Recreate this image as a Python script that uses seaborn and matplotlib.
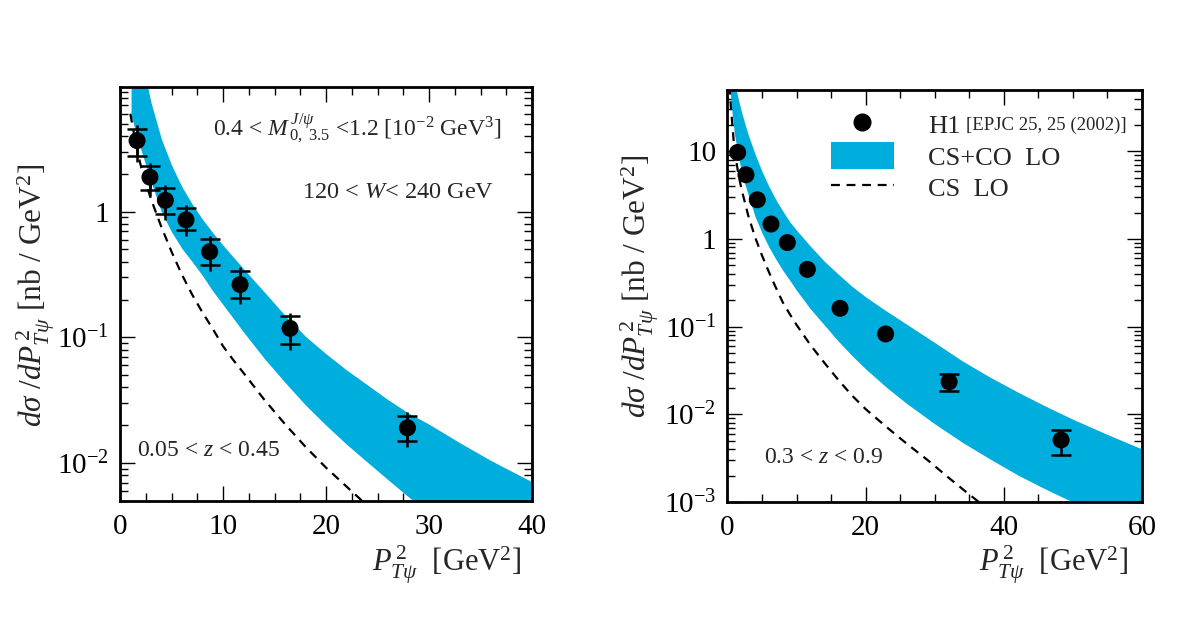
import numpy as np
import pandas as pd
import matplotlib
matplotlib.use("Agg")
import matplotlib.pyplot as plt
import matplotlib.ticker as mticker
from matplotlib.patches import Patch
from matplotlib.lines import Line2D
import seaborn as sns

#   --  left panel : 0.05 < z < 0.45
pt2_l = [1.65, 2.9, 4.4, 6.4, 8.7, 11.65, 16.5, 27.9]
xsec_l = [3.67, 1.88, 1.23, 0.86, 0.48, 0.263, 0.118, 0.0191]
xsec_l_hi = [4.58, 2.30, 1.54, 1.06, 0.606, 0.34, 0.148, 0.0239]
xsec_l_lo = [2.78, 1.48, 0.95, 0.716, 0.374, 0.206, 0.088, 0.0150]

band_x_l = [1.07, 1.5, 2, 2.5, 3, 4, 5, 6, 7, 8, 9, 10, 12, 14, 16, 18, 20, 22, 24, 26, 28, 30, 33, 36, 40]
band_hi_l = [79, 35.5, 19, 11.5, 7.4, 3.8, 2.34, 1.58, 1.15, 0.87, 0.68, 0.54, 0.35, 0.23, 0.15,
             0.102, 0.074, 0.055, 0.042, 0.032, 0.025, 0.0204, 0.0145, 0.0105, 0.0071]
band_lo_l = [5.8, 4.4, 3.16, 2.34, 1.74, 1.0, 0.69, 0.51, 0.40, 0.31, 0.234, 0.182, 0.11, 0.068, 0.044,
             0.029, 0.020, 0.0141, 0.0102, 0.0074, 0.0054, 0.0040, 0.0026, 0.0017, 0.001]

cs_x_l = [1.0, 1.5, 2, 2.5, 3, 4, 5, 6, 7, 8, 9, 10, 11, 12, 14, 16, 18, 20, 22, 24]
cs_y_l = [6.0, 3.55, 2.34, 1.70, 1.26, 0.76, 0.48, 0.316, 0.219, 0.158, 0.117, 0.085, 0.066, 0.052,
          0.032, 0.0205, 0.0135, 0.0092, 0.0065, 0.0046]

#   --  right panel : 0.3 < z < 0.9
pt2_r = [1.48, 2.68, 4.32, 6.3, 8.67, 11.57, 16.3, 22.9, 32.1, 48.3]
xsec_r = [9.7, 5.4, 2.8, 1.48, 0.91, 0.45, 0.162, 0.0826, 0.0235, 0.0051]
xsec_r_hi = [10.2, 5.7, 2.95, 1.56, 0.96, 0.475, 0.172, 0.088, 0.0286, 0.0067]
xsec_r_lo = [9.2, 5.1, 2.65, 1.40, 0.86, 0.425, 0.152, 0.077, 0.0184, 0.00348]

band_x_r = [0.3, 0.6, 1.0, 1.5, 2, 2.5, 3, 4, 5, 6, 7, 8, 9, 10, 12, 14, 16, 18, 20, 23, 26, 30, 34,
            38, 42, 46, 50, 55, 60]
band_hi_r = [200, 100, 63, 41.7, 28.8, 20.9, 15.5, 9.3, 5.9, 3.98, 2.82, 2.09, 1.58, 1.26, 0.83, 0.56,
             0.40, 0.29, 0.219, 0.151, 0.106, 0.066, 0.0407, 0.0266, 0.018, 0.01245, 0.0088, 0.0059,
             0.00403]
band_lo_r = [60, 31, 16, 9.5, 6.0, 4.3, 3.2, 1.8, 1.17, 0.81, 0.59, 0.44, 0.34, 0.26, 0.16, 0.105,
             0.069, 0.047, 0.033, 0.0204, 0.0132, 0.0078, 0.0048, 0.0031, 0.00204, 0.00141, 0.001,
             0.00066, 0.00045]

cs_x_r = [0.3, 0.5, 1, 1.5, 2, 3, 4, 5, 6, 7, 8, 9, 10, 12, 14, 16, 18, 20, 23, 26, 29, 32, 35, 37]
cs_y_r = [56, 31.6, 10.7, 6.0, 3.8, 1.86, 1.05, 0.65, 0.42, 0.28, 0.19, 0.14, 0.105, 0.062, 0.039,
          0.025, 0.0165, 0.0115, 0.0072, 0.0046, 0.0030, 0.0019, 0.00122, 0.00092]

cyan = "#00AEDD"

sns.set_style("ticks")
plt.rcParams["font.family"] = ["Liberation Serif", "DejaVu Serif"]
plt.rcParams["mathtext.fontset"] = "custom"
plt.rcParams["mathtext.rm"] = "Liberation Serif"
plt.rcParams["mathtext.it"] = "Liberation Serif:italic"
plt.rcParams["mathtext.bf"] = "Liberation Serif:bold"


def sci_label(v, pos):
    e = int(round(np.log10(v)))
    if e == 0:
        return "1"
    if e == 1:
        return "10"
    return r"$10^{%d}$" % e


def draw_panel(ax, px, py, phi, plo, bx, bhi, blo, cx, cy, xmax, ymin, ymax, xmaj, xmin_step, caps_plus):
    ax.fill_between(bx, blo, bhi, color=cyan, lw=0, zorder=1)
    sns.lineplot(x=cx, y=cy, ax=ax, color="black", lw=1.6, linestyle=(0, (4, 3)), zorder=2)
    px = np.array(px)
    py = np.array(py)
    phi = np.array(phi)
    plo = np.array(plo)
    if caps_plus:
        # outer part of the error bar sticking through the caps
        ext = [py - plo * 0.9, phi * 1.06 - py]
        ax.errorbar(px, py, yerr=ext, fmt="none", ecolor="black", elinewidth=1.8, zorder=3)
    big = phi / plo > 1.3
    ax.errorbar(px[big], py[big], yerr=[py[big] - plo[big], phi[big] - py[big]], fmt="none",
                ecolor="black", elinewidth=1.8, capsize=7, capthick=1.8, zorder=3)
    ax.errorbar(px[~big], py[~big], yerr=[py[~big] - plo[~big], phi[~big] - py[~big]], fmt="none",
                ecolor="black", elinewidth=1.8, zorder=3)
    sns.scatterplot(x=px, y=py, ax=ax, color="black", s=150, edgecolor="none", zorder=4)

    ax.set_yscale("log")
    ax.set_xlim(0, xmax)
    ax.set_ylim(ymin, ymax)
    ax.xaxis.set_major_locator(mticker.MultipleLocator(xmaj))
    ax.xaxis.set_minor_locator(mticker.MultipleLocator(xmin_step))
    ax.yaxis.set_major_locator(mticker.LogLocator(base=10, numticks=10))
    ax.yaxis.set_minor_locator(mticker.LogLocator(base=10, subs=np.arange(2, 10), numticks=20))
    ax.yaxis.set_major_formatter(mticker.FuncFormatter(sci_label))
    ax.yaxis.set_minor_formatter(mticker.NullFormatter())
    ax.tick_params(which="both", direction="in", top=True, right=True, colors="black", width=1.0,
                   labelsize=21)
    ax.tick_params(which="major", length=11)
    ax.tick_params(which="minor", length=5.5)
    ax.tick_params(axis="x", which="major", pad=9)
    ax.tick_params(axis="y", which="major", pad=8)
    for s in ax.spines.values():
        s.set_visible(True)
        s.set_linewidth(2.0)
        s.set_color("black")
    ax.set_xlabel("")
    ax.set_ylabel("")


fig = plt.figure(figsize=(11.84, 6.23), dpi=100)
ax1 = fig.add_axes([0.1014, 0.1958, 0.348, 0.6646])
ax2 = fig.add_axes([0.6144, 0.1942, 0.350, 0.6613])

draw_panel(ax1, pt2_l, xsec_l, xsec_l_hi, xsec_l_lo, band_x_l, band_hi_l, band_lo_l,
           cs_x_l, cs_y_l, 40, 0.005, 9.8, 10, 2.5, True)
draw_panel(ax2, pt2_r, xsec_r, xsec_r_hi, xsec_r_lo, band_x_r, band_hi_r, band_lo_r,
           cs_x_r, cs_y_r, 60, 0.001, 50, 20, 5, False)

ylab = r"$d\sigma\ /dP^{\,2}_{T\psi}$ [nb / GeV$^2$]"
xlab = r"$P^{\,2}_{T\psi}$  [GeV$^2$]"
fig.text(0.030, 0.526, ylab, rotation=90, ha="center", va="center", fontsize=22.5)
fig.text(0.540, 0.541, ylab, rotation=90, ha="center", va="center", fontsize=22.5)
fig.text(0.440, 0.093, xlab, ha="right", va="center", fontsize=22)
fig.text(0.953, 0.093, xlab, ha="right", va="center", fontsize=22)

ax1.text(0.226, 0.90, r"0.4 < $M^{\,J/\psi}_{\,0,\ 3.5}$ <1.2 [10$^{-2}$ GeV$^3$]",
         transform=ax1.transAxes, ha="left", va="center", fontsize=17)
ax1.text(0.441, 0.746, r"120 < $W$< 240 GeV", transform=ax1.transAxes,
         ha="left", va="center", fontsize=17.5)
ax1.text(0.040, 0.123, r"0.05 < $z$ < 0.45", transform=ax1.transAxes,
         ha="left", va="center", fontsize=17)
ax2.text(0.088, 0.107, r"0.3 < $z$ < 0.9", transform=ax2.transAxes,
         ha="left", va="center", fontsize=17)

handles = [
    Line2D([], [], marker="o", color="black", linestyle="none", markersize=12),
    Patch(facecolor=cyan, edgecolor="none"),
    Line2D([], [], color="black", lw=1.6, linestyle=(0, (4, 3))),
]
ax2.legend(handles, ["H1", "CS+CO  LO", "CS  LO"], loc="upper left",
           bbox_to_anchor=(0.192, 1.007), frameon=False, fontsize=19,
           handlelength=2.4, handleheight=1.2, handletextpad=1.3, labelspacing=0.15)
fig.text(0.8155, 0.7994, "[EPJC 25, 25 (2002)]", ha="left", va="center", fontsize=13.5)

fig.savefig("out.png", dpi=100)
